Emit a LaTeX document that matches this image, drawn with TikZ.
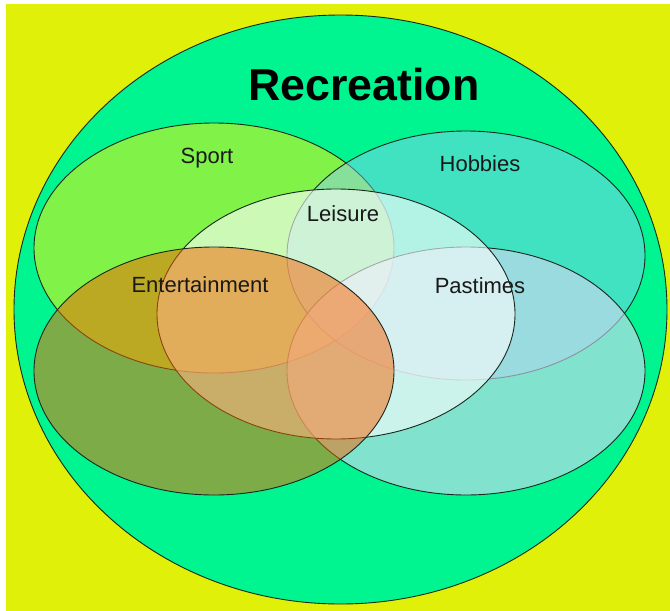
\documentclass[tikz,border=0pt]{standalone}
\usepackage{fontspec}
\setmainfont{Liberation Sans}
\definecolor{bgyellow}{RGB}{224,240,8}
\definecolor{recgreen}{RGB}{0,245,145}
\definecolor{sportc}{RGB}{255,240,0}
\definecolor{hobbyc}{RGB}{142,204,255}
\definecolor{pastc}{RGB}{215,215,245}
\definecolor{leisc}{RGB}{255,255,255}
\definecolor{entc}{RGB}{248,98,0}
\definecolor{edgec}{RGB}{25,40,30}
\definecolor{txtc}{RGB}{25,25,25}
\tikzset{
  setedge/.style={draw=edgec, line width=0.9pt},
  lbl/.style={anchor=base, text=txtc, inner sep=0pt, font=\fontsize{22pt}{26pt}\selectfont},
  title/.style={anchor=base, text=black, inner sep=0pt, font=\fontsize{44.7pt}{50pt}\selectfont\bfseries}
}
\begin{document}
\begin{tikzpicture}[x=1pt,y=-1pt]
\useasboundingbox (0,0) rectangle (670,611);
\fill[white] (0,0) rectangle (670,611);
\fill[bgyellow] (6,4) rectangle (670,611);
% outer circle
\path[setedge, fill=recgreen] (340.5,309.5) ellipse [x radius=326.5pt, y radius=294.5pt];
% sets
\path[setedge, fill=sportc, fill opacity=0.5] (214,248) ellipse [x radius=180pt, y radius=125pt];
\path[setedge, fill=hobbyc, fill opacity=0.45] (466,255.5) ellipse [x radius=179pt, y radius=124.5pt];
\path[setedge, fill=pastc, fill opacity=0.6] (466,371) ellipse [x radius=179pt, y radius=124pt];
\path[setedge, fill=leisc, fill opacity=0.6] (336,314) ellipse [x radius=179pt, y radius=125pt];
\path[setedge, fill=entc, fill opacity=0.5] (214,371) ellipse [x radius=180pt, y radius=124pt];
% labels
\node[title] (rec) at (364,100) {Recreation};
\node[lbl] (sport) at (207,163) {Sport};
\node[lbl] (hobbies) at (480,171) {Hobbies};
\node[lbl] (leisure) at (343,221) {Leisure};
\node[lbl] (ent) at (200,292) {Entertainment};
\node[lbl] (past) at (480,293) {Pastimes};
\end{tikzpicture}
\end{document}
